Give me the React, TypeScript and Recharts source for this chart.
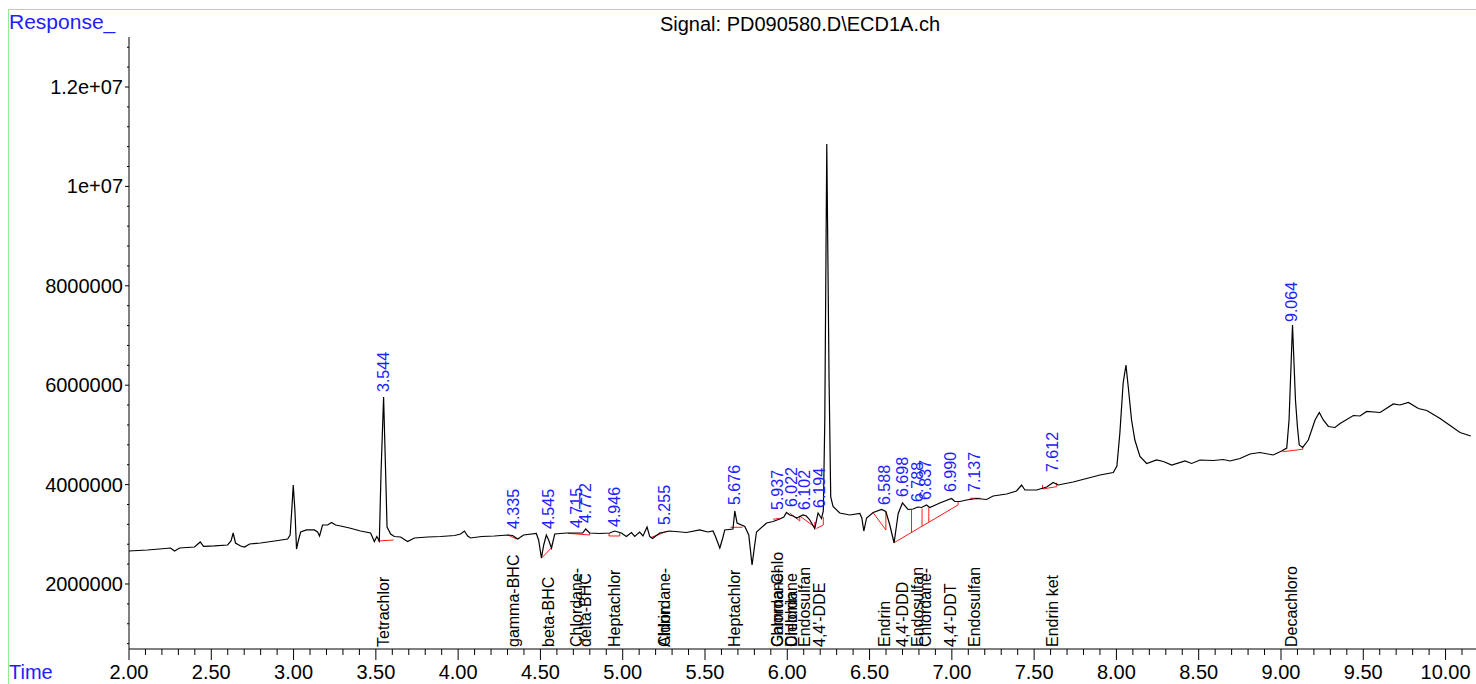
import { ComposedChart, Line, Scatter, XAxis, YAxis, ReferenceLine } from "recharts";

// retention time (min) and detector response of the ECD trace
const rt = [
  2.0, 2.112, 2.185, 2.252, 2.277, 2.307, 2.398, 2.433, 2.453, 2.52,
  2.599, 2.62, 2.633, 2.647, 2.678, 2.702, 2.733, 2.799, 2.885, 2.964,
  2.979, 2.991, 2.998, 3.008, 3.018, 3.03, 3.043, 3.079, 3.126, 3.146,
  3.158, 3.176, 3.207, 3.231, 3.255, 3.286, 3.34, 3.407, 3.468, 3.491,
  3.506, 3.521, 3.532, 3.547, 3.559, 3.568, 3.59, 3.612, 3.65, 3.693,
  3.734, 3.815, 3.894, 3.979, 4.015, 4.038, 4.058, 4.076, 4.143, 4.22,
  4.301, 4.331, 4.362, 4.398, 4.475, 4.489, 4.506, 4.52, 4.536, 4.55,
  4.567, 4.587, 4.658, 4.757, 4.775, 4.799, 4.86, 4.921, 4.951, 4.992,
  5.022, 5.053, 5.073, 5.103, 5.123, 5.148, 5.164, 5.181, 5.225, 5.286,
  5.387, 5.468, 5.517, 5.549, 5.565, 5.59, 5.608, 5.62, 5.67, 5.681,
  5.695, 5.742, 5.766, 5.786, 5.802, 5.813, 5.874, 5.914, 5.954, 5.979,
  5.995, 6.015, 6.035, 6.058, 6.076, 6.096, 6.116, 6.137, 6.167, 6.187,
  6.208, 6.219, 6.228, 6.24, 6.254, 6.264, 6.278, 6.319, 6.38, 6.441,
  6.453, 6.465, 6.482, 6.522, 6.573, 6.599, 6.623, 6.649, 6.66, 6.674,
  6.7, 6.734, 6.765, 6.793, 6.816, 6.846, 6.866, 6.927, 6.998, 7.018,
  7.049, 7.089, 7.15, 7.211, 7.251, 7.333, 7.393, 7.424, 7.444, 7.515,
  7.576, 7.616, 7.646, 7.737, 7.819, 7.9, 7.981, 8.003, 8.021, 8.041,
  8.058, 8.072, 8.092, 8.112, 8.143, 8.184, 8.244, 8.285, 8.336, 8.417,
  8.457, 8.508, 8.589, 8.649, 8.69, 8.751, 8.812, 8.872, 8.953, 9.004,
  9.035, 9.049, 9.07, 9.088, 9.1, 9.111, 9.132, 9.166, 9.207, 9.233,
  9.257, 9.288, 9.328, 9.359, 9.44, 9.48, 9.521, 9.602, 9.683, 9.723,
  9.774, 9.835, 9.886, 9.967, 10.088, 10.153,
];

const resp = [
  2664000, 2684000, 2704000, 2724000, 2664000, 2724000, 2744000, 2845000, 2755000, 2765000,
  2785000, 2865000, 3026000, 2825000, 2765000, 2744000, 2805000, 2825000, 2865000, 2905000,
  2986000, 3590000, 3992000, 3489000, 2704000, 2885000, 3046000, 3087000, 3087000, 3046000,
  2966000, 3187000, 3187000, 3237000, 3187000, 3167000, 3127000, 3066000, 3026000, 2855000,
  2956000, 2865000, 4294000, 5763000, 4294000, 3147000, 3006000, 2956000, 2946000, 2855000,
  2926000, 2946000, 2956000, 2976000, 3006000, 3066000, 2966000, 2926000, 2956000, 2966000,
  2986000, 2976000, 2905000, 2986000, 3016000, 2885000, 2523000, 2785000, 2986000, 2885000,
  2724000, 3006000, 3026000, 3026000, 3107000, 3026000, 3016000, 3026000, 3066000, 3026000,
  2956000, 3036000, 2956000, 3046000, 2966000, 3147000, 2956000, 2916000, 3026000, 3066000,
  3036000, 3087000, 3046000, 3066000, 2946000, 2724000, 2926000, 3087000, 3107000, 3469000,
  3227000, 3157000, 2986000, 2382000, 2785000, 3046000, 3227000, 3258000, 3308000, 3348000,
  3439000, 3388000, 3368000, 3328000, 3358000, 3388000, 3368000, 3288000, 3117000, 3429000,
  3318000, 3469000, 5300000, 10853000, 6105000, 3751000, 3559000, 3429000, 3388000, 3419000,
  3328000, 3066000, 3328000, 3439000, 3499000, 3459000, 3187000, 2825000, 3087000, 3419000,
  3630000, 3499000, 3509000, 3549000, 3539000, 3590000, 3539000, 3630000, 3720000, 3660000,
  3660000, 3690000, 3720000, 3700000, 3771000, 3811000, 3871000, 3992000, 3891000, 3891000,
  3952000, 4042000, 3992000, 4052000, 4123000, 4193000, 4244000, 4374000, 5038000, 6044000,
  6406000, 5964000, 5300000, 4897000, 4565000, 4425000, 4495000, 4465000, 4394000, 4475000,
  4425000, 4495000, 4485000, 4505000, 4475000, 4525000, 4616000, 4646000, 4596000, 4676000,
  4736000, 5300000, 7211000, 5702000, 5159000, 4797000, 4747000, 4897000, 5300000, 5451000,
  5300000, 5169000, 5149000, 5229000, 5390000, 5380000, 5471000, 5451000, 5622000, 5602000,
  5652000, 5531000, 5491000, 5330000, 5048000, 4978000,
];

// integrated peaks: retention time label and the response where the label starts
const peakRt = [
  "3.544", "4.335", "4.545", "4.715", "4.772", "4.946", "5.255", "5.676", "5.937", "6.022",
  "6.102", "6.194", "6.588", "6.698", "6.788", "6.837", "6.990", "7.137", "7.612", "9.064",
];
const peakLabelV = [
  5863000, 3107000, 3107000, 3127000, 3227000, 3147000, 3187000, 3590000, 3489000, 3549000,
  3489000, 3529000, 3590000, 3751000, 3650000, 3690000, 3851000, 3851000, 4254000, 7272000,
];

// compound names printed above the time axis
const compounds = [
  "Tetrachlor", "gamma-BHC", "beta-BHC", "Chlordane-", "delta-BHC", "Heptachlor", "Chlordane-",
  "Aldrin", "Heptachlor", "Gamma-Chlo", "Chlordane-", "Chlordane", "Dieldrin", "Endosulfan",
  "4,4'-DDE", "Endrin", "4,4'-DDD", "Endosulfan", "Chlordane-", "4,4'-DDT", "Endosulfan",
  "Endrin ket", "Decachloro",
];
const compoundRt = [
  3.544, 4.335, 4.545, 4.715, 4.772, 4.946, 5.255, 5.255, 5.676, 5.937, 5.937, 6.022, 6.022,
  6.102, 6.194, 6.588, 6.698, 6.788, 6.837, 6.99, 7.137, 7.612, 9.064,
];

// red integration baselines / drop lines: [t1, v1, t2, v2]
const baselines = [
  [3.511, 2865000, 3.608, 2885000],
  [4.303, 2986000, 4.354, 2905000],
  [4.506, 2517000, 4.573, 2750000],
  [4.667, 3020000, 4.799, 2986000],
  [4.799, 2986000, 4.799, 3026000],
  [4.917, 2966000, 4.982, 2966000],
  [4.917, 2966000, 4.917, 3026000],
  [4.982, 2966000, 4.982, 3026000],
  [5.168, 2932000, 5.275, 3066000],
  [5.655, 3141000, 5.728, 3141000],
  [5.914, 3302000, 5.954, 3322000],
  [6.015, 3429000, 6.076, 3268000],
  [6.076, 3368000, 6.076, 3268000],
  [6.076, 3368000, 6.167, 3147000],
  [6.167, 3247000, 6.167, 3127000],
  [6.177, 3117000, 6.219, 3187000],
  [6.219, 3348000, 6.219, 3187000],
  [6.522, 3435000, 6.599, 3087000],
  [6.599, 3455000, 6.599, 3087000],
  [6.649, 2831000, 7.038, 3590000],
  [6.755, 3499000, 6.755, 3038000],
  [6.819, 3519000, 6.819, 3163000],
  [6.86, 3539000, 6.86, 3243000],
  [7.038, 3670000, 7.038, 3590000],
  [7.109, 3724000, 7.175, 3724000],
  [7.551, 3992000, 7.551, 3911000],
  [7.551, 3911000, 7.637, 3958000],
  [7.637, 3958000, 7.637, 4038000],
  [9.01, 4662000, 9.132, 4710000],
  [9.132, 4710000, 9.132, 4750000],
];

const xTicks = [
  2.0, 2.1, 2.2, 2.3, 2.4, 2.5, 2.6, 2.7, 2.8, 2.9, 3.0, 3.1, 3.2, 3.3, 3.4, 3.5, 3.6, 3.7, 3.8, 3.9,
  4.0, 4.1, 4.2, 4.3, 4.4, 4.5, 4.6, 4.7, 4.8, 4.9, 5.0, 5.1, 5.2, 5.3, 5.4, 5.5, 5.6, 5.7, 5.8, 5.9,
  6.0, 6.1, 6.2, 6.3, 6.4, 6.5, 6.6, 6.7, 6.8, 6.9, 7.0, 7.1, 7.2, 7.3, 7.4, 7.5, 7.6, 7.7, 7.8, 7.9,
  8.0, 8.1, 8.2, 8.3, 8.4, 8.5, 8.6, 8.7, 8.8, 8.9, 9.0, 9.1, 9.2, 9.3, 9.4, 9.5, 9.6, 9.7, 9.8, 9.9,
  10.0, 10.1,
];
const xMajor = [2.0, 2.5, 3.0, 3.5, 4.0, 4.5, 5.0, 5.5, 6.0, 6.5, 7.0, 7.5, 8.0, 8.5, 9.0, 9.5, 10.0];
const xMajorLabels = [
  "2.00", "2.50", "3.00", "3.50", "4.00", "4.50", "5.00", "5.50", "6.00",
  "6.50", "7.00", "7.50", "8.00", "8.50", "9.00", "9.50", "10.00",
];

const yTicks = [
  800000, 1200000, 1600000, 2000000, 2400000, 2800000, 3200000, 3600000, 4000000, 4400000,
  4800000, 5200000, 5600000, 6000000, 6400000, 6800000, 7200000, 7600000, 8000000, 8400000,
  8800000, 9200000, 9600000, 10000000, 10400000, 10800000, 11200000, 11600000, 12000000,
  12400000, 12800000,
];
const yMajor = [2000000, 4000000, 6000000, 8000000, 10000000, 12000000];
const yMajorLabels = ["2000000", "4000000", "6000000", "8000000", "1e+07", "1.2e+07"];

const X_DOMAIN: [number, number] = [2, 10.185];
const Y_DOMAIN: [number, number] = [692000, 13006000];

const FONT = "'Liberation Sans', Arial, sans-serif";
const BLUE = "#2020ff";
const RED = "#ff1a1a";

const trace = rt.map((t, i) => ({ t, v: resp[i] }));
const peakPoints = peakRt.map((label, i) => ({ t: parseFloat(label), v: peakLabelV[i], label }));
const compoundPoints = compounds.map((name, i) => ({ t: compoundRt[i], v: Y_DOMAIN[0], label: name }));

const near = (a: number, b: number) => Math.abs(a - b) < 1e-6;

const XTick = ({ x, y, payload }: any) => {
  const idx = xMajor.findIndex((m) => near(m, payload.value));
  const major = idx >= 0;
  return (
    <g>
      <line x1={x} y1={y} x2={x} y2={y + (major ? 11 : 6)} stroke="#000" strokeWidth={1} />
      {major && (
        <text x={x} y={y + 30} textAnchor="middle" fontSize={20} fill="#000" fontFamily={FONT}>
          {xMajorLabels[idx]}
        </text>
      )}
    </g>
  );
};

const YTick = ({ x, y, payload }: any) => {
  const idx = yMajor.findIndex((m) => near(m, payload.value));
  const major = idx >= 0;
  return (
    <g>
      <line x1={x - (major ? 4 : 2)} y1={y} x2={x} y2={y} stroke="#000" strokeWidth={1} />
      {major && (
        <text x={x - 6} y={y} dy="0.35em" textAnchor="end" fontSize={20} fill="#000" fontFamily={FONT}>
          {yMajorLabels[idx]}
        </text>
      )}
    </g>
  );
};

const VerticalText = ({ cx, cy, payload, fill, offset }: any) => {
  const y = cy - offset;
  return (
    <text
      x={cx}
      y={y}
      dy="0.36em"
      transform={`rotate(-90 ${cx} ${y})`}
      fontSize={16}
      fill={fill}
      fontFamily={FONT}
    >
      {payload.label}
    </text>
  );
};

export default function App() {
  return (
    <div style={{ position: "fixed", left: 0, top: 0, width: 1476, height: 684, background: "#fff", overflow: "hidden", fontFamily: FONT }}>
      <div style={{ position: "absolute", left: 8, top: 9, width: 1600, height: 800, borderLeft: "1px solid #90ee90", borderTop: "1px solid #90ee90" }} />
      <div style={{ position: "absolute", left: 0, top: 0 }}>
        <ComposedChart width={1476} height={684} margin={{ top: 37, right: 0, bottom: 0, left: 0 }}>
          <XAxis
            dataKey="t"
            type="number"
            domain={X_DOMAIN}
            ticks={xTicks}
            interval={0}
            height={35}
            tickSize={0}
            tickMargin={0}
            tick={<XTick />}
            axisLine={{ stroke: "#000" }}
          />
          <YAxis
            type="number"
            domain={Y_DOMAIN}
            ticks={yTicks}
            interval={0}
            width={129}
            tickSize={0}
            tickMargin={0}
            tick={<YTick />}
            axisLine={{ stroke: "#000" }}
          />
          {baselines.map((b, i) => (
            <ReferenceLine
              key={i}
              segment={[{ x: b[0], y: b[1] }, { x: b[2], y: b[3] }]}
              stroke={RED}
              strokeWidth={1}
              ifOverflow="visible"
            />
          ))}
          <Line
            data={trace}
            dataKey="v"
            type="linear"
            stroke="#000"
            strokeWidth={1.2}
            dot={false}
            activeDot={false}
            isAnimationActive={false}
          />
          <Scatter
            data={peakPoints}
            dataKey="v"
            isAnimationActive={false}
            shape={(p: any) => <VerticalText {...p} fill={BLUE} offset={0} />}
          />
          <Scatter
            data={compoundPoints}
            dataKey="v"
            isAnimationActive={false}
            shape={(p: any) => <VerticalText {...p} fill="#000" offset={2} />}
          />
        </ComposedChart>
      </div>
      <svg width={1476} height={684} style={{ position: "absolute", left: 0, top: 0, pointerEvents: "none" }}>
        <text x={9} y={29} fontSize={21} fill={BLUE} fontFamily={FONT}>Response_</text>
        <text x={9} y={679} fontSize={20} fill={BLUE} fontFamily={FONT}>Time</text>
        <text x={800} y={31} fontSize={20} fill="#000" textAnchor="middle" fontFamily={FONT}>
          Signal: PD090580.D\ECD1A.ch
        </text>
      </svg>
    </div>
  );
}
